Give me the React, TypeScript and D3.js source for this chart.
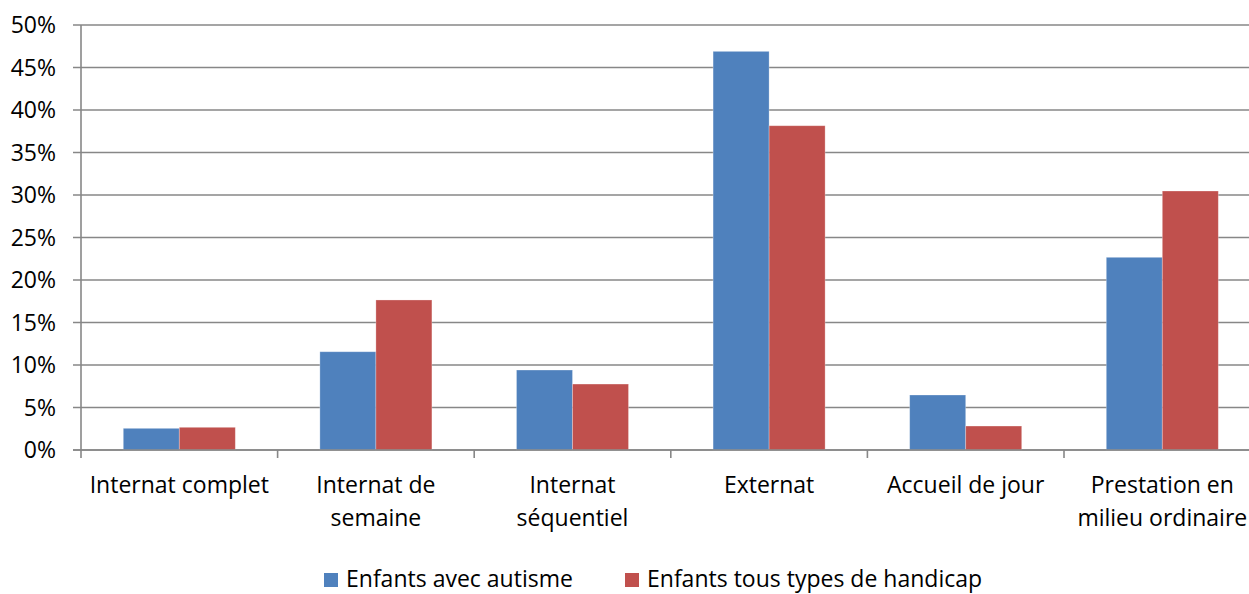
import React from "react";
import * as d3 from "d3";

const categories: string[][] = [
  ["Internat complet"],
  ["Internat de", "semaine"],
  ["Internat", "séquentiel"],
  ["Externat"],
  ["Accueil de jour"],
  ["Prestation en", "milieu ordinaire"],
];
const seriesNames = ["Enfants avec autisme", "Enfants tous types de handicap"];
const autisme = [2.55, 11.56, 9.41, 46.9, 6.47, 22.67];
const tousTypes = [2.67, 17.65, 7.76, 38.15, 2.82, 30.47];
const yTicks = [0, 5, 10, 15, 20, 25, 30, 35, 40, 45, 50];
const colors = ["#4F81BD", "#C0504D"];

const W = 1249;
const H = 594;
const FONT = "'Open Sans', sans-serif";

export default function App() {
  const left = 81;
  const catW = 196.6;
  const keys = categories.map((c) => c.join(" "));
  const x = d3.scaleBand<string>().domain(keys).range([left, left + catW * keys.length]).padding(0);
  const xs = d3
    .scaleBand<string>()
    .domain(seriesNames)
    .range([0, x.bandwidth()])
    .paddingInner(0)
    .paddingOuter(0.755);
  const y = d3.scaleLinear().domain([0, 50]).range([450, 25]);
  const series = [autisme, tousTypes];
  const right = left + catW * keys.length;
  const grid = "#878787";

  return (
    <svg
      width={W}
      height={H}
      style={{ position: "absolute", left: 0, top: 0, background: "#fff" }}
      fontFamily={FONT}
    >
      <rect x={0} y={0} width={W} height={H} fill="#fff" />
      {yTicks.map((t) => (
        <g key={t}>
          <line x1={73} x2={right} y1={y(t)} y2={y(t)} stroke={grid} strokeWidth={1.6} />
          <text x={56} y={y(t)} dy="0.35em" textAnchor="end" fontSize={23} fill="#000">
            {t}%
          </text>
        </g>
      ))}
      {keys.map((k, i) =>
        series.map((s, j) => {
          const v = s[i];
          const bx = (x(k) as number) + (xs(seriesNames[j]) as number);
          return (
            <rect
              key={k + j}
              x={bx}
              y={y(v)}
              width={xs.bandwidth()}
              height={y(0) - y(v)}
              fill={colors[j]}
              stroke="#ffffff"
              strokeOpacity={0.35}
              strokeWidth={0.8}
            />
          );
        })
      )}
      <line x1={left} x2={left} y1={y(50)} y2={458} stroke={grid} strokeWidth={1.6} />
      <line x1={73} x2={right} y1={y(0)} y2={y(0)} stroke={grid} strokeWidth={1.6} />
      {keys.map((k, i) => (
        <line
          key={"tk" + i}
          x1={(x(k) as number) + catW}
          x2={(x(k) as number) + catW}
          y1={y(0)}
          y2={458}
          stroke={grid}
          strokeWidth={1.6}
        />
      ))}
      {categories.map((lines, i) => (
        <text
          key={"cl" + i}
          x={(x(keys[i]) as number) + catW / 2}
          y={493}
          textAnchor="middle"
          fontSize={23}
          fill="#000"
        >
          {lines.map((ln, li) => (
            <tspan key={li} x={(x(keys[i]) as number) + catW / 2} dy={li === 0 ? 0 : 33}>
              {ln}
            </tspan>
          ))}
        </text>
      ))}
      <g>
        <rect x={324} y={573} width={14} height={14} fill={colors[0]} />
        <text x={346} y={587} fontSize={23} fill="#000">
          {seriesNames[0]}
        </text>
        <rect x={625} y={573} width={14} height={14} fill={colors[1]} />
        <text x={647} y={587} fontSize={23} fill="#000">
          {seriesNames[1]}
        </text>
      </g>
    </svg>
  );
}
